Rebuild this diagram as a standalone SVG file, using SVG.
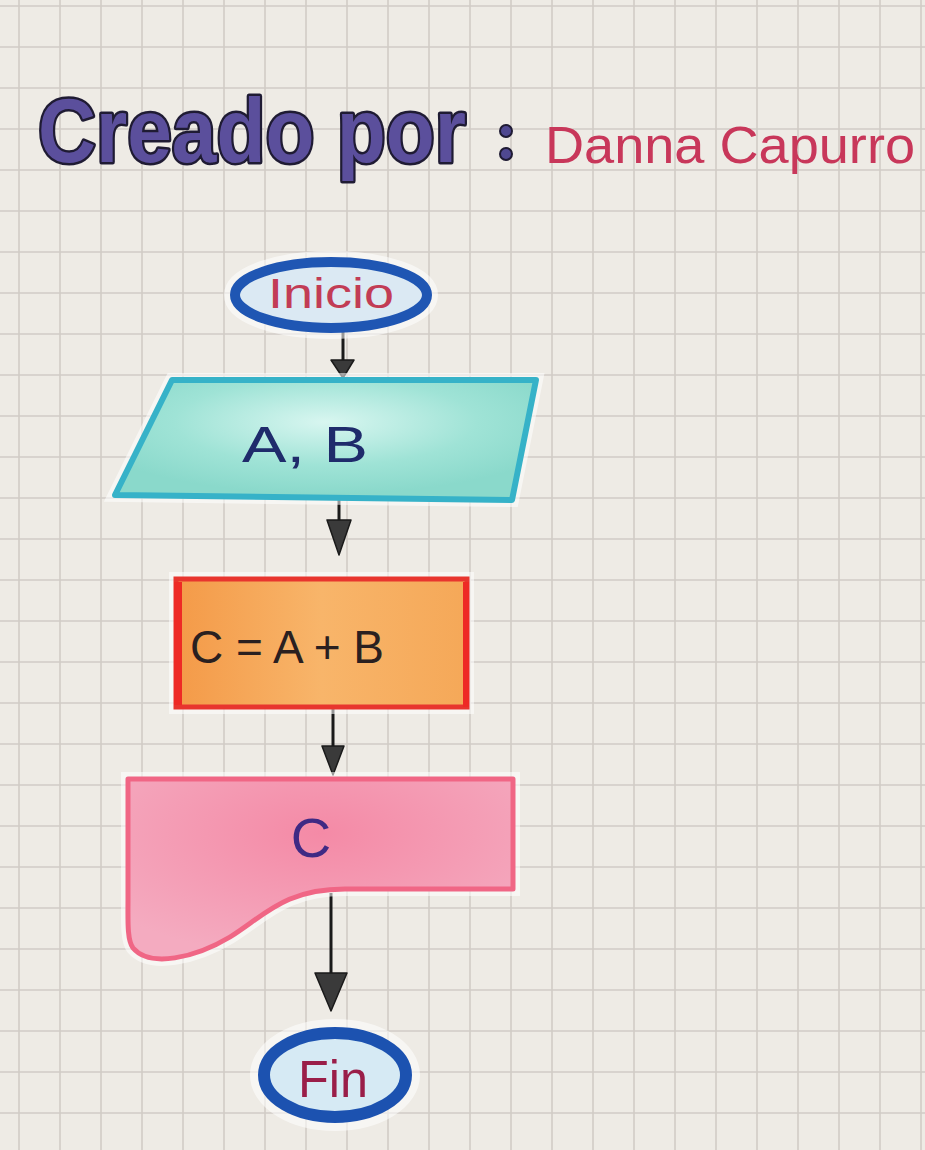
<svg xmlns="http://www.w3.org/2000/svg" width="925" height="1150" viewBox="0 0 925 1150">
<style>
.title{font-family:"Liberation Sans",Arial,sans-serif;font-weight:bold;font-size:90px;fill:#5b4f9c;stroke:#1f1b33;stroke-width:5px;paint-order:stroke;stroke-linejoin:round}
.author{font-family:"Liberation Sans",Arial,sans-serif;font-size:52px;fill:#c8375a}
.lbl{font-family:"Liberation Sans",Arial,sans-serif;text-anchor:middle}
.conn line{stroke:#1a1a1a;stroke-width:3}
.conn polygon{fill:#3a3a3a;stroke:#1a1a1a;stroke-width:1.5;stroke-linejoin:round}
.glow{fill:none;stroke:#ffffff;stroke-opacity:0.55}
</style>
<defs>
<pattern id="grid" x="18" y="5" width="41" height="41" patternUnits="userSpaceOnUse">
<path d="M1,0 V41 M0,1 H41" fill="none" stroke="#d1ccc6" stroke-width="1.6"/>
</pattern>
<linearGradient id="org" x1="0" y1="0" x2="1" y2="0">
<stop offset="0" stop-color="#f49a48"/>
<stop offset="0.5" stop-color="#f8b56a"/>
<stop offset="1" stop-color="#f5a858"/>
</linearGradient>
<radialGradient id="tq" cx="0.5" cy="0.35" r="0.6">
<stop offset="0" stop-color="#d8f6f0"/>
<stop offset="0.6" stop-color="#9fe3d6"/>
<stop offset="1" stop-color="#8ad9cb"/>
</radialGradient>
<radialGradient id="pk" cx="0.5" cy="0.3" r="0.7">
<stop offset="0" stop-color="#f48aa6"/>
<stop offset="1" stop-color="#f4abc0"/>
</radialGradient>
</defs>
<rect width="925" height="1150" fill="#eeebe5"/>
<rect width="925" height="1150" fill="url(#grid)"/>

<g id="title">
<text class="title" x="38" y="162" textLength="428" lengthAdjust="spacingAndGlyphs">Creado por</text>
<circle cx="506" cy="131" r="6" fill="#4f4890" stroke="#1f1b33" stroke-width="2"/>
<circle cx="506" cy="154" r="6" fill="#4f4890" stroke="#1f1b33" stroke-width="2"/>
<text class="author" x="545" y="163" textLength="370" lengthAdjust="spacingAndGlyphs">Danna Capurro</text>
</g>

<g class="conn" id="connectors">
<line x1="343" y1="332" x2="343" y2="362"/>
<polygon points="331,360 354,360 343,378"/>
<line x1="339" y1="500" x2="339" y2="522"/>
<polygon points="327,520 351,520 339,555"/>
<line x1="333" y1="709" x2="333" y2="748"/>
<polygon points="322,746 344,746 333,775"/>
<line x1="331" y1="893" x2="331" y2="975"/>
<polygon points="315,973 347,973 331,1011"/>
</g>

<g id="inicio">
<ellipse class="glow" cx="331" cy="295" rx="97" ry="34" stroke-width="20"/>
<ellipse cx="331" cy="295" rx="96" ry="33" fill="#dbe9f3" stroke="#1f56b3" stroke-width="10"/>
<text class="lbl" x="331" y="308" font-size="42" fill="#c23c55" textLength="126" lengthAdjust="spacingAndGlyphs">Inicio</text>
</g>

<g id="entrada">
<polygon class="glow" points="172,380 536,380 512,500 115,495" stroke-width="14"/>
<polygon points="172,380 536,380 512,500 115,495" fill="url(#tq)" stroke="#36b2c8" stroke-width="6" stroke-linejoin="round"/>
<text class="lbl" x="305" y="462" font-size="50" fill="#1f2b6b" textLength="126" lengthAdjust="spacingAndGlyphs">A, B</text>
</g>

<g id="proceso">
<rect class="glow" x="176" y="579" width="291" height="128" stroke-width="14"/>
<rect x="176" y="579" width="291" height="128" fill="url(#org)" stroke="#e8352e" stroke-width="5"/>
<line x1="178" y1="582" x2="178" y2="705" stroke="#ee2a25" stroke-width="8"/>
<line x1="466" y1="582" x2="466" y2="707" stroke="#ee2a25" stroke-width="6"/>
<text x="190" y="663" font-family="'Liberation Sans',Arial,sans-serif" font-size="46" fill="#2a2020" textLength="194" lengthAdjust="spacing">C = A + B</text>
</g>

<g id="salida">
<path class="glow" d="M128,779 L513,779 L513,889 L345,889 C285,889 265,915 230,937 C195,958 150,968 133,948 C127,940 128,920 128,900 Z" stroke-width="14"/>
<path d="M128,779 L513,779 L513,889 L345,889 C285,889 265,915 230,937 C195,958 150,968 133,948 C127,940 128,920 128,900 Z" fill="url(#pk)" stroke="#f06685" stroke-width="5" stroke-linejoin="round"/>
<text class="lbl" x="311" y="857" font-size="56" fill="#3f2a84" font-family="'Liberation Serif',serif">C</text>
</g>

<g id="fin">
<ellipse class="glow" cx="335" cy="1075" rx="74" ry="45" stroke-width="22"/>
<ellipse cx="335" cy="1075" rx="71" ry="42" fill="#d6eaf4" stroke="#1c52b0" stroke-width="12"/>
<text class="lbl" x="333" y="1097" font-size="52" fill="#9a1e48" textLength="70" lengthAdjust="spacingAndGlyphs">Fin</text>
</g>
</svg>
